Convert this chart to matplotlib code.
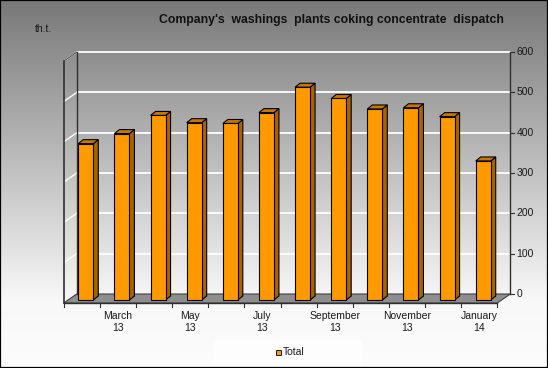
import numpy as np
import matplotlib
matplotlib.use("Agg")
import matplotlib.pyplot as plt
from matplotlib.patches import Polygon, Rectangle

plt.rcParams['font.family'] = ['Liberation Sans', 'DejaVu Sans']

# data
months = ["February\n13", "March\n13", "April\n13", "May\n13", "June\n13", "July\n13",
          "August\n13", "September\n13", "October\n13", "November\n13", "December\n13", "January\n14"]
total = [388, 413, 458, 440, 438, 465, 528, 500, 474, 477, 455, 345]
y_ticks = [0, 100, 200, 300, 400, 500, 600]

W, H = 548, 368
fig = plt.figure(figsize=(W / 100, H / 100), dpi=100)

# axes spans whole figure; data units chosen so bars land on the right pixels
px_cat, x0_px = 36.13, 85.8
px_val, y0_px = 0.403, 300
ax = fig.add_axes([0, 0, 1, 1])
xlim = (-x0_px / px_cat, (W - x0_px) / px_cat)
ylim = ((y0_px - H) / px_val, y0_px / px_val)
ax.set_xlim(xlim)
ax.set_ylim(ylim)
ax.axis("off")

# background gradient
rows = np.arange(H)
g = np.interp(rows, [0, 300, H], [120, 248, 252]) / 255
img = np.repeat(g[:, None, None], 3, axis=2)
ax.imshow(img, extent=(xlim[0], xlim[1], ylim[0], ylim[1]), aspect="auto", zorder=0)

# 3d geometry
fx0, fx1, fy = -0.611, 11.389, -7.4      # front floor edge
ddx, ddy = 0.36, 22.3                     # front -> back wall offset
bx0, bx1, by = fx0 + ddx, fx1 + ddx, fy + ddy
top = 600

# floor
ax.add_patch(Polygon([(fx0, fy), (fx1, fy), (bx1, by), (bx0, by)], closed=True,
                     facecolor="#8e8e8e", edgecolor="#404040", lw=0.8, zorder=1))

# gridlines on back wall and left side
for v in y_ticks[1:]:
    ax.plot([bx0, bx1], [by + v, by + v], color="white", lw=1.3, zorder=1)
    ax.plot([fx0, bx0], [fy + v, by + v], color="white", lw=1.0, zorder=1)
ax.plot([fx0, bx0], [fy + top, by + top], color="#505050", lw=0.8, zorder=2)
ax.plot([bx0, bx0], [by, by + top], color="#303030", lw=1.0, zorder=2)
ax.plot([fx0, fx0], [fy, fy + top], color="#303030", lw=1.2, zorder=2)

# right axis
ax.plot([bx1, bx1], [by, by + top], color="#303030", lw=1.0, zorder=2)
for v in y_ticks:
    ax.plot([bx1, bx1 + 0.11], [by + v, by + v], color="#303030", lw=0.8, zorder=2)
    ax.text(bx1 + 0.17, by + v, str(v), fontsize=7.5, color="#1a1a1a",
            va="center", ha="left", zorder=3)

# bottom axis with ticks
ax.plot([fx0, fx1], [fy, fy], color="#303030", lw=1.0, zorder=2)
for k in range(13):
    ax.plot([fx0 + k, fx0 + k], [fy, fy - 11], color="#303030", lw=0.8, zorder=2)
x = np.arange(len(total))
for i in range(1, len(months), 2):
    ax.text(x[i] - 0.111, fy - 21, months[i], fontsize=7.5, color="#1a1a1a",
            ha="center", va="top", linespacing=1.2, zorder=3)

# bars
bw, sdx, sdy = 0.415, 0.138, 9.9
ax.bar(x, total, width=bw, color="#FF9900", edgecolor="black", lw=0.8, zorder=5)
for xi, v in zip(x, total):
    xl, xr = xi - bw / 2, xi + bw / 2
    ax.add_patch(Polygon([(xr, 0), (xr + sdx, sdy), (xr + sdx, v + sdy), (xr, v)],
                         closed=True, facecolor="#A86400", edgecolor="black", lw=0.8, zorder=4))
    ax.add_patch(Polygon([(xl, v), (xr, v), (xr + sdx, v + sdy), (xl + sdx, v + sdy)],
                         closed=True, facecolor="#C87800", edgecolor="black", lw=0.8, zorder=4))

# texts
fig.text(331 / W, 1 - 20 / H, "Company's  washings  plants coking concentrate  dispatch",
         fontsize=8.8, fontweight="bold", color="#101010", ha="center", va="center")
fig.text(35 / W, 1 - 29 / H, "th.t.", fontsize=7.5, color="#1a1a1a", ha="left", va="center")

# legend
fig.patches.append(Rectangle((213 / W, 1 - 366 / H), 149 / W, 26 / H, transform=fig.transFigure,
                             facecolor="#fdfdfd", edgecolor="none", zorder=1))
fig.patches.append(Rectangle((276 / W, 1 - 355 / H), 5 / W, 5 / H, transform=fig.transFigure,
                             facecolor="#FF9900", edgecolor="black", lw=0.6, zorder=2))
fig.text(283 / W, 1 - 352 / H, "Total", fontsize=7.5, color="#1a1a1a", ha="left", va="center")

# border
fig.patches.append(Rectangle((0, 0), 1, 1, transform=fig.transFigure, fill=False,
                             edgecolor="black", lw=1.6, zorder=10))

fig.savefig("out.png", dpi=100)
